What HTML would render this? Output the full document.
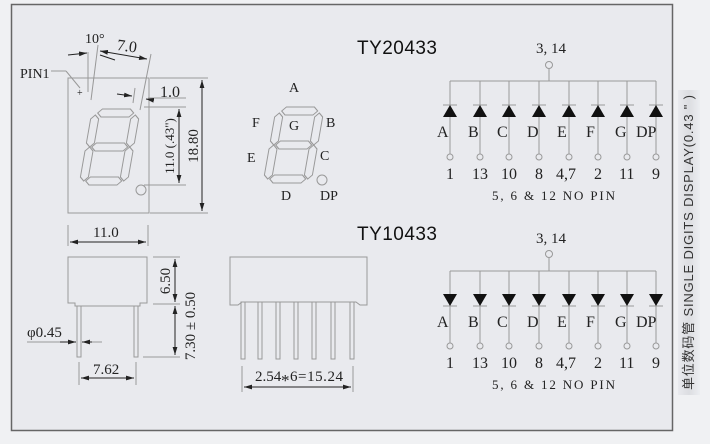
<!DOCTYPE html>
<html><head><meta charset="utf-8"><style>
html,body{margin:0;padding:0;background:#eceef1;}
svg{display:block;}
.n{font-family:"Liberation Serif","Noto Serif CJK SC",serif;fill:#222;}
.t{font-family:"Liberation Sans",sans-serif;fill:#111;}
</style></head><body>
<svg width="710" height="444" viewBox="0 0 710 444" xmlns="http://www.w3.org/2000/svg">
<defs>
<marker id="ar" viewBox="0 0 10 6" refX="10" refY="3" markerWidth="8" markerHeight="5" orient="auto-start-reverse" markerUnits="userSpaceOnUse"><path d="M0,0 L10,3 L0,6 z" fill="#222"/></marker>
<linearGradient id="bg" x1="0" x2="1"><stop offset="0" stop-color="#e9eaee"/><stop offset="0.5" stop-color="#dcdde1"/><stop offset="1" stop-color="#eceef1"/></linearGradient>
<g id="dig" fill="none" stroke="#999" stroke-width="1">
<polygon points="3,-72 7,-76 35,-76 39,-72 35,-68 7,-68"/>
<polygon points="3,-38 7,-42 35,-42 39,-38 35,-34 7,-34"/>
<polygon points="3,-4 7,-8 35,-8 39,-4 35,0 7,0"/>
<polygon points="1,-70 5,-66 5,-42 1,-38 -3,-42 -3,-66"/>
<polygon points="1,-38 5,-34 5,-8 1,-4 -3,-8 -3,-34"/>
<polygon points="41,-70 45,-66 45,-42 41,-38 37,-42 37,-66"/>
<polygon points="41,-38 45,-34 45,-8 41,-4 37,-8 37,-34"/>
</g>
</defs>
<rect x="0" y="0" width="710" height="444" fill="#f0f1f3"/>
<rect x="11.5" y="4.5" width="661" height="426" fill="#e9eaee" stroke="#666" stroke-width="1.5"/>
<rect x="678" y="90" width="22" height="305" fill="url(#bg)"/>

<!-- top-left front view -->
<g stroke="#999" fill="none" stroke-width="1">
<rect x="68" y="78" width="81" height="135"/>
<circle cx="141" cy="190" r="5"/>
<line x1="150" y1="78" x2="208" y2="78"/>
<line x1="150" y1="213" x2="208" y2="213"/>
<line x1="144" y1="107" x2="186" y2="107"/>
<line x1="144" y1="185" x2="186" y2="185"/>
<line x1="88" y1="52" x2="88" y2="92"/>
<line x1="98" y1="45" x2="91" y2="100"/>
<line x1="151" y1="54" x2="140" y2="110"/>
<line x1="135" y1="88" x2="133" y2="103"/>
<line x1="148" y1="98" x2="186" y2="98"/>
<line x1="51" y1="71" x2="66" y2="71"/>
<line x1="66" y1="71" x2="80" y2="88"/>
</g>
<use href="#dig" transform="translate(82,185) skewX(-10)"/>
<text class="n" x="77" y="96" font-size="10">+</text>
<g stroke="#222" stroke-width="1" fill="none">
<line x1="202" y1="80" x2="202" y2="211" marker-start="url(#ar)" marker-end="url(#ar)"/>
<line x1="179" y1="109" x2="179" y2="183" marker-start="url(#ar)" marker-end="url(#ar)"/>
<line x1="68" y1="55" x2="87" y2="53" marker-end="url(#ar)"/>
<line x1="100" y1="51" x2="147" y2="59" marker-start="url(#ar)" marker-end="url(#ar)"/>
<line x1="100" y1="55" x2="115" y2="60"/>
<line x1="117" y1="94" x2="132" y2="96" marker-end="url(#ar)"/>
<line x1="152" y1="100" x2="146" y2="99" marker-end="url(#ar)"/>
</g>
<text class="n" x="20" y="78" font-size="14">PIN1</text>
<text class="n" x="85" y="43" font-size="14">10°</text>
<text class="n" x="117" y="51" font-size="16" transform="rotate(8 125 46)">7.0</text>
<text class="n" x="160" y="97" font-size="16">1.0</text>
<text class="n" font-size="15" transform="translate(198,146) rotate(-90)" text-anchor="middle">18.80</text>
<text class="n" font-size="13" transform="translate(174,146) rotate(-90)" text-anchor="middle">11.0 (.43")</text>

<!-- small digit -->
<use href="#dig" transform="translate(266,183) skewX(-10)"/>
<circle cx="322" cy="180" r="5" fill="none" stroke="#999"/>
<g class="n" font-size="14">
<text x="289" y="92">A</text><text x="252" y="127">F</text><text x="289" y="130">G</text>
<text x="326" y="127">B</text><text x="247" y="162">E</text><text x="320" y="160">C</text>
<text x="281" y="200">D</text><text x="320" y="200">DP</text>
</g>

<text class="t" x="357" y="54" font-size="19" textLength="80">TY20433</text>
<text class="t" x="357" y="240" font-size="19" textLength="80">TY10433</text>

<!-- side view -->
<g stroke="#999" fill="none">
<path d="M68,257 H147 V303 H140 V306 H75 V303 H68 Z"/>
<rect x="77" y="306" width="4" height="51"/>
<rect x="134" y="306" width="4" height="51"/>
<line x1="68" y1="225" x2="68" y2="246"/><line x1="148" y1="225" x2="148" y2="246"/>
<line x1="153" y1="257" x2="180" y2="257"/><line x1="153" y1="304" x2="180" y2="304"/>
<line x1="143" y1="357" x2="180" y2="357"/>
<line x1="79" y1="362" x2="79" y2="385"/><line x1="136" y1="362" x2="136" y2="385"/>
<line x1="27" y1="342" x2="70" y2="342"/><line x1="88" y1="342" x2="102" y2="342"/>
</g>
<g stroke="#222" fill="none">
<line x1="70" y1="242" x2="146" y2="242" marker-start="url(#ar)" marker-end="url(#ar)"/>
<line x1="175" y1="259" x2="175" y2="302" marker-start="url(#ar)" marker-end="url(#ar)"/>
<line x1="175" y1="306" x2="175" y2="355" marker-start="url(#ar)" marker-end="url(#ar)"/>
<line x1="81" y1="378" x2="134" y2="378" marker-start="url(#ar)" marker-end="url(#ar)"/>
<line x1="60" y1="342" x2="76" y2="342" marker-end="url(#ar)"/>
<line x1="92" y1="342" x2="82" y2="342" marker-end="url(#ar)"/>
</g>
<text class="n" x="93" y="237" font-size="15">11.0</text>
<text class="n" x="27" y="337" font-size="15">φ0.45</text>
<text class="n" x="93" y="374" font-size="15">7.62</text>
<text class="n" font-size="15" transform="translate(170,281) rotate(-90)" text-anchor="middle">6.50</text>
<text class="n" font-size="15" transform="translate(195,326) rotate(-90)" text-anchor="middle">7.30 ± 0.50</text>

<!-- front view -->
<g stroke="#999" fill="none">
<path d="M230,257 H367 V305 H360 L356,302 H242 L238,305 H230 Z"/>
<rect x="241" y="302" width="4" height="57"/><rect x="258" y="302" width="4" height="57"/>
<rect x="276" y="302" width="4" height="57"/><rect x="294" y="302" width="4" height="57"/>
<rect x="312" y="302" width="4" height="57"/><rect x="331" y="302" width="4" height="57"/>
<rect x="350" y="302" width="4" height="57"/>
<line x1="242" y1="366" x2="242" y2="392"/><line x1="353" y1="366" x2="353" y2="392"/>
</g>
<line x1="244" y1="387" x2="351" y2="387" stroke="#222" marker-start="url(#ar)" marker-end="url(#ar)"/>
<text class="n" x="255" y="381" font-size="15">2.54</text>
<text class="n" x="281" y="386" font-size="17">*</text>
<text class="n" x="290" y="381" font-size="15" textLength="53">6=15.24</text>

<!-- schematic top -->
<g stroke="#999" fill="none">
<line x1="450" y1="81" x2="656" y2="81"/>
<line x1="549" y1="69" x2="549" y2="81"/>
<circle cx="549" cy="65" r="3.5"/>
<path d="M450,81V154M480,81V154M509,81V154M539,81V154M569,81V154M598,81V154M627,81V154M656,81V154"/>
<circle cx="450" cy="157" r="3"/><circle cx="480" cy="157" r="3"/><circle cx="509" cy="157" r="3"/><circle cx="539" cy="157" r="3"/>
<circle cx="569" cy="157" r="3"/><circle cx="598" cy="157" r="3"/><circle cx="627" cy="157" r="3"/><circle cx="656" cy="157" r="3"/>
<path d="M443,105h14M473,105h14M502,105h14M532,105h14M562,105h14M591,105h14M620,105h14M649,105h14"/>
</g>
<g fill="#111">
<path d="M443,117 L450,105 L457,117Z M473,117 L480,105 L487,117Z M502,117 L509,105 L516,117Z M532,117 L539,105 L546,117Z M562,117 L569,105 L576,117Z M591,117 L598,105 L605,117Z M620,117 L627,105 L634,117Z M649,117 L656,105 L663,117Z"/>
</g>
<!-- schematic bottom -->
<g stroke="#999" fill="none">
<line x1="450" y1="271" x2="656" y2="271"/>
<line x1="549" y1="258" x2="549" y2="271"/>
<circle cx="549" cy="254" r="3.5"/>
<path d="M450,271V343M480,271V343M509,271V343M539,271V343M569,271V343M598,271V343M627,271V343M656,271V343"/>
<circle cx="450" cy="346" r="3"/><circle cx="480" cy="346" r="3"/><circle cx="509" cy="346" r="3"/><circle cx="539" cy="346" r="3"/>
<circle cx="569" cy="346" r="3"/><circle cx="598" cy="346" r="3"/><circle cx="627" cy="346" r="3"/><circle cx="656" cy="346" r="3"/>
<path d="M443,306h14M473,306h14M502,306h14M532,306h14M562,306h14M591,306h14M620,306h14M649,306h14"/>
</g>
<g fill="#111">
<path d="M443,294 L450,306 L457,294Z M473,294 L480,306 L487,294Z M502,294 L509,306 L516,294Z M532,294 L539,306 L546,294Z M562,294 L569,306 L576,294Z M591,294 L598,306 L605,294Z M620,294 L627,306 L634,294Z M649,294 L656,306 L663,294Z"/>
</g>
<g class="n" font-size="16">
<text x="536" y="53" font-size="15">3, 14</text>
<text x="536" y="243" font-size="15">3, 14</text>
<g>
<text x="437" y="137">A</text><text x="468" y="137">B</text><text x="497" y="137">C</text><text x="527" y="137">D</text>
<text x="557" y="137">E</text><text x="586" y="137">F</text><text x="615" y="137">G</text><text x="636" y="137">DP</text>
<text x="446" y="179">1</text><text x="472" y="179">13</text><text x="501" y="179">10</text><text x="535" y="179">8</text>
<text x="556" y="179">4,7</text><text x="594" y="179">2</text><text x="619" y="179">11</text><text x="652" y="179">9</text>
</g>
<g>
<text x="437" y="327">A</text><text x="468" y="327">B</text><text x="497" y="327">C</text><text x="527" y="327">D</text>
<text x="557" y="327">E</text><text x="586" y="327">F</text><text x="615" y="327">G</text><text x="636" y="327">DP</text>
<text x="446" y="368">1</text><text x="472" y="368">13</text><text x="501" y="368">10</text><text x="535" y="368">8</text>
<text x="556" y="368">4,7</text><text x="594" y="368">2</text><text x="619" y="368">11</text><text x="652" y="368">9</text>
</g>
<text x="492" y="200" font-size="13" textLength="123">5, 6 &amp; 12  NO  PIN</text>
<text x="492" y="389" font-size="13" textLength="123">5, 6 &amp; 12  NO  PIN</text>
</g>

<text font-family="Liberation Sans,'Noto Sans CJK SC',sans-serif" font-size="13" fill="#333" transform="translate(693,390) rotate(-90)" textLength="295">单位数码管 SINGLE DIGITS DISPLAY(0.43 " )</text>
</svg>
</body></html>
